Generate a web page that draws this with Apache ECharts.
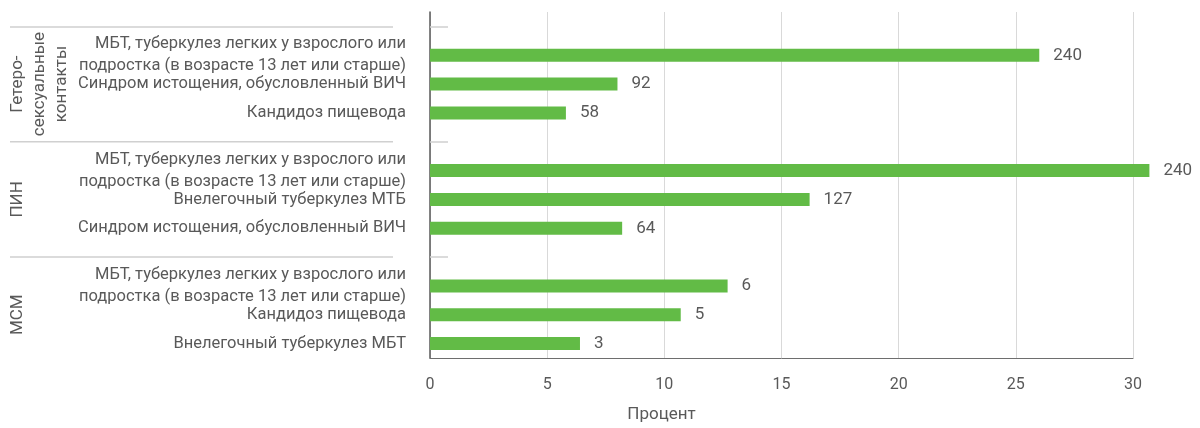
<!DOCTYPE html>
<html>
<head>
<meta charset="utf-8">
<script src="https://cdn.jsdelivr.net/npm/echarts@6/dist/echarts.min.js"></script>
<style>
  html, body { margin: 0; padding: 0; background: #fff; }
  #chart { width: 1200px; height: 428px; }
</style>
</head>
<body>
<div id="chart"></div>
<script>
// группы (подписи слева, повернутые)
const groupNames = ["Гетеро-\nсексуальные\nконтакты", "ПИН", "МСМ"];

// гетеросексуальные контакты
const hetLabels = [
  "МБТ, туберкулез легких у взрослого или\nподростка (в возрасте 13 лет или старше)",
  "Синдром истощения, обусловленный ВИЧ",
  "Кандидоз пищевода"
];
const hetValues = [26.0, 8.0, 5.8];
const hetCounts = [240, 92, 58];

// ПИН
const pinLabels = [
  "МБТ, туберкулез легких у взрослого или\nподростка (в возрасте 13 лет или старше)",
  "Внелегочный туберкулез МТБ",
  "Синдром истощения, обусловленный ВИЧ"
];
const pinValues = [30.7, 16.2, 8.2];
const pinCounts = [240, 127, 64];

// МСМ
const msmLabels = [
  "МБТ, туберкулез легких у взрослого или\nподростка (в возрасте 13 лет или старше)",
  "Кандидоз пищевода",
  "Внелегочный туберкулез МБТ"
];
const msmValues = [12.7, 10.7, 6.4];
const msmCounts = [6, 5, 3];

const xTicks = [0, 5, 10, 15, 20, 25, 30];

// собираем категории: пустая строка-разделитель перед каждой группой
let cats = [], vals = [], counts = [], groupAxis = [], sepIdx = [];
[[hetLabels, hetValues, hetCounts], [pinLabels, pinValues, pinCounts], [msmLabels, msmValues, msmCounts]]
  .forEach(function (g, gi) {
    sepIdx.push(cats.length);
    cats.push(""); vals.push(null); counts.push(null); groupAxis.push("");
    g[0].forEach(function (lbl, i) {
      cats.push(lbl);
      vals.push(g[1][i]);
      counts.push(g[2][i]);
      groupAxis.push(i === 1 ? groupNames[gi] : "");
    });
  });

const textColor = "#595959";
const fontFamily = "Roboto, 'Noto Sans', sans-serif";

const myChart = echarts.init(document.getElementById("chart"));
const option = {
  animation: false,
  textStyle: { fontFamily: fontFamily },
  grid: { left: 430, right: 67, top: 12, bottom: 67 },
  xAxis: {
    type: "value",
    min: xTicks[0],
    max: xTicks[xTicks.length - 1],
    interval: 5,
    name: "Процент",
    nameLocation: "middle",
    nameGap: 48,
    nameTextStyle: { fontSize: 17, color: textColor, padding: [0, 240, 0, 0] },
    axisLine: { show: true, lineStyle: { color: "#6e6e6e", width: 1 } },
    axisTick: { show: false },
    axisLabel: { fontSize: 16, color: textColor, margin: 19 },
    splitLine: { show: true, lineStyle: { color: "#d9d9d9", width: 1 } }
  },
  yAxis: [
    {
      type: "category",
      data: cats,
      inverse: true,
      axisLine: { show: true, lineStyle: { color: "#595959", width: 1.5 } },
      axisTick: {
        show: true,
        inside: true,
        alignWithLabel: true,
        length: 18,
        interval: function (i) { return sepIdx.indexOf(i) >= 0; },
        lineStyle: { color: "#d0d0d0", width: 1.5 }
      },
      axisLabel: {
        interval: 0,
        fontSize: 16.5,
        lineHeight: 22,
        color: textColor,
        margin: 24
      },
      splitLine: { show: false }
    },
    {
      type: "category",
      data: groupAxis,
      inverse: true,
      position: "left",
      offset: 37,
      axisLine: { show: false },
      axisTick: {
        show: true,
        alignWithLabel: true,
        length: 383,
        interval: function (i) { return sepIdx.indexOf(i) >= 0; },
        lineStyle: { color: "#d0d0d0", width: 1.5 }
      },
      axisLabel: {
        interval: 0,
        rotate: 90,
        verticalAlign: "top",
        align: "center",
        fontSize: 17,
        lineHeight: 22,
        color: textColor,
        margin: 386
      },
      splitLine: { show: false }
    }
  ],
  series: [
    {
      type: "bar",
      yAxisIndex: 0,
      data: vals,
      barWidth: 13,
      clip: false,
      itemStyle: { color: "#62bb46" },
      label: {
        show: true,
        position: "right",
        distance: 14,
        fontSize: 17,
        color: textColor,
        formatter: function (p) { return counts[p.dataIndex]; }
      }
    }
  ]
};
myChart.setOption(option);
</script>
</body>
</html>
